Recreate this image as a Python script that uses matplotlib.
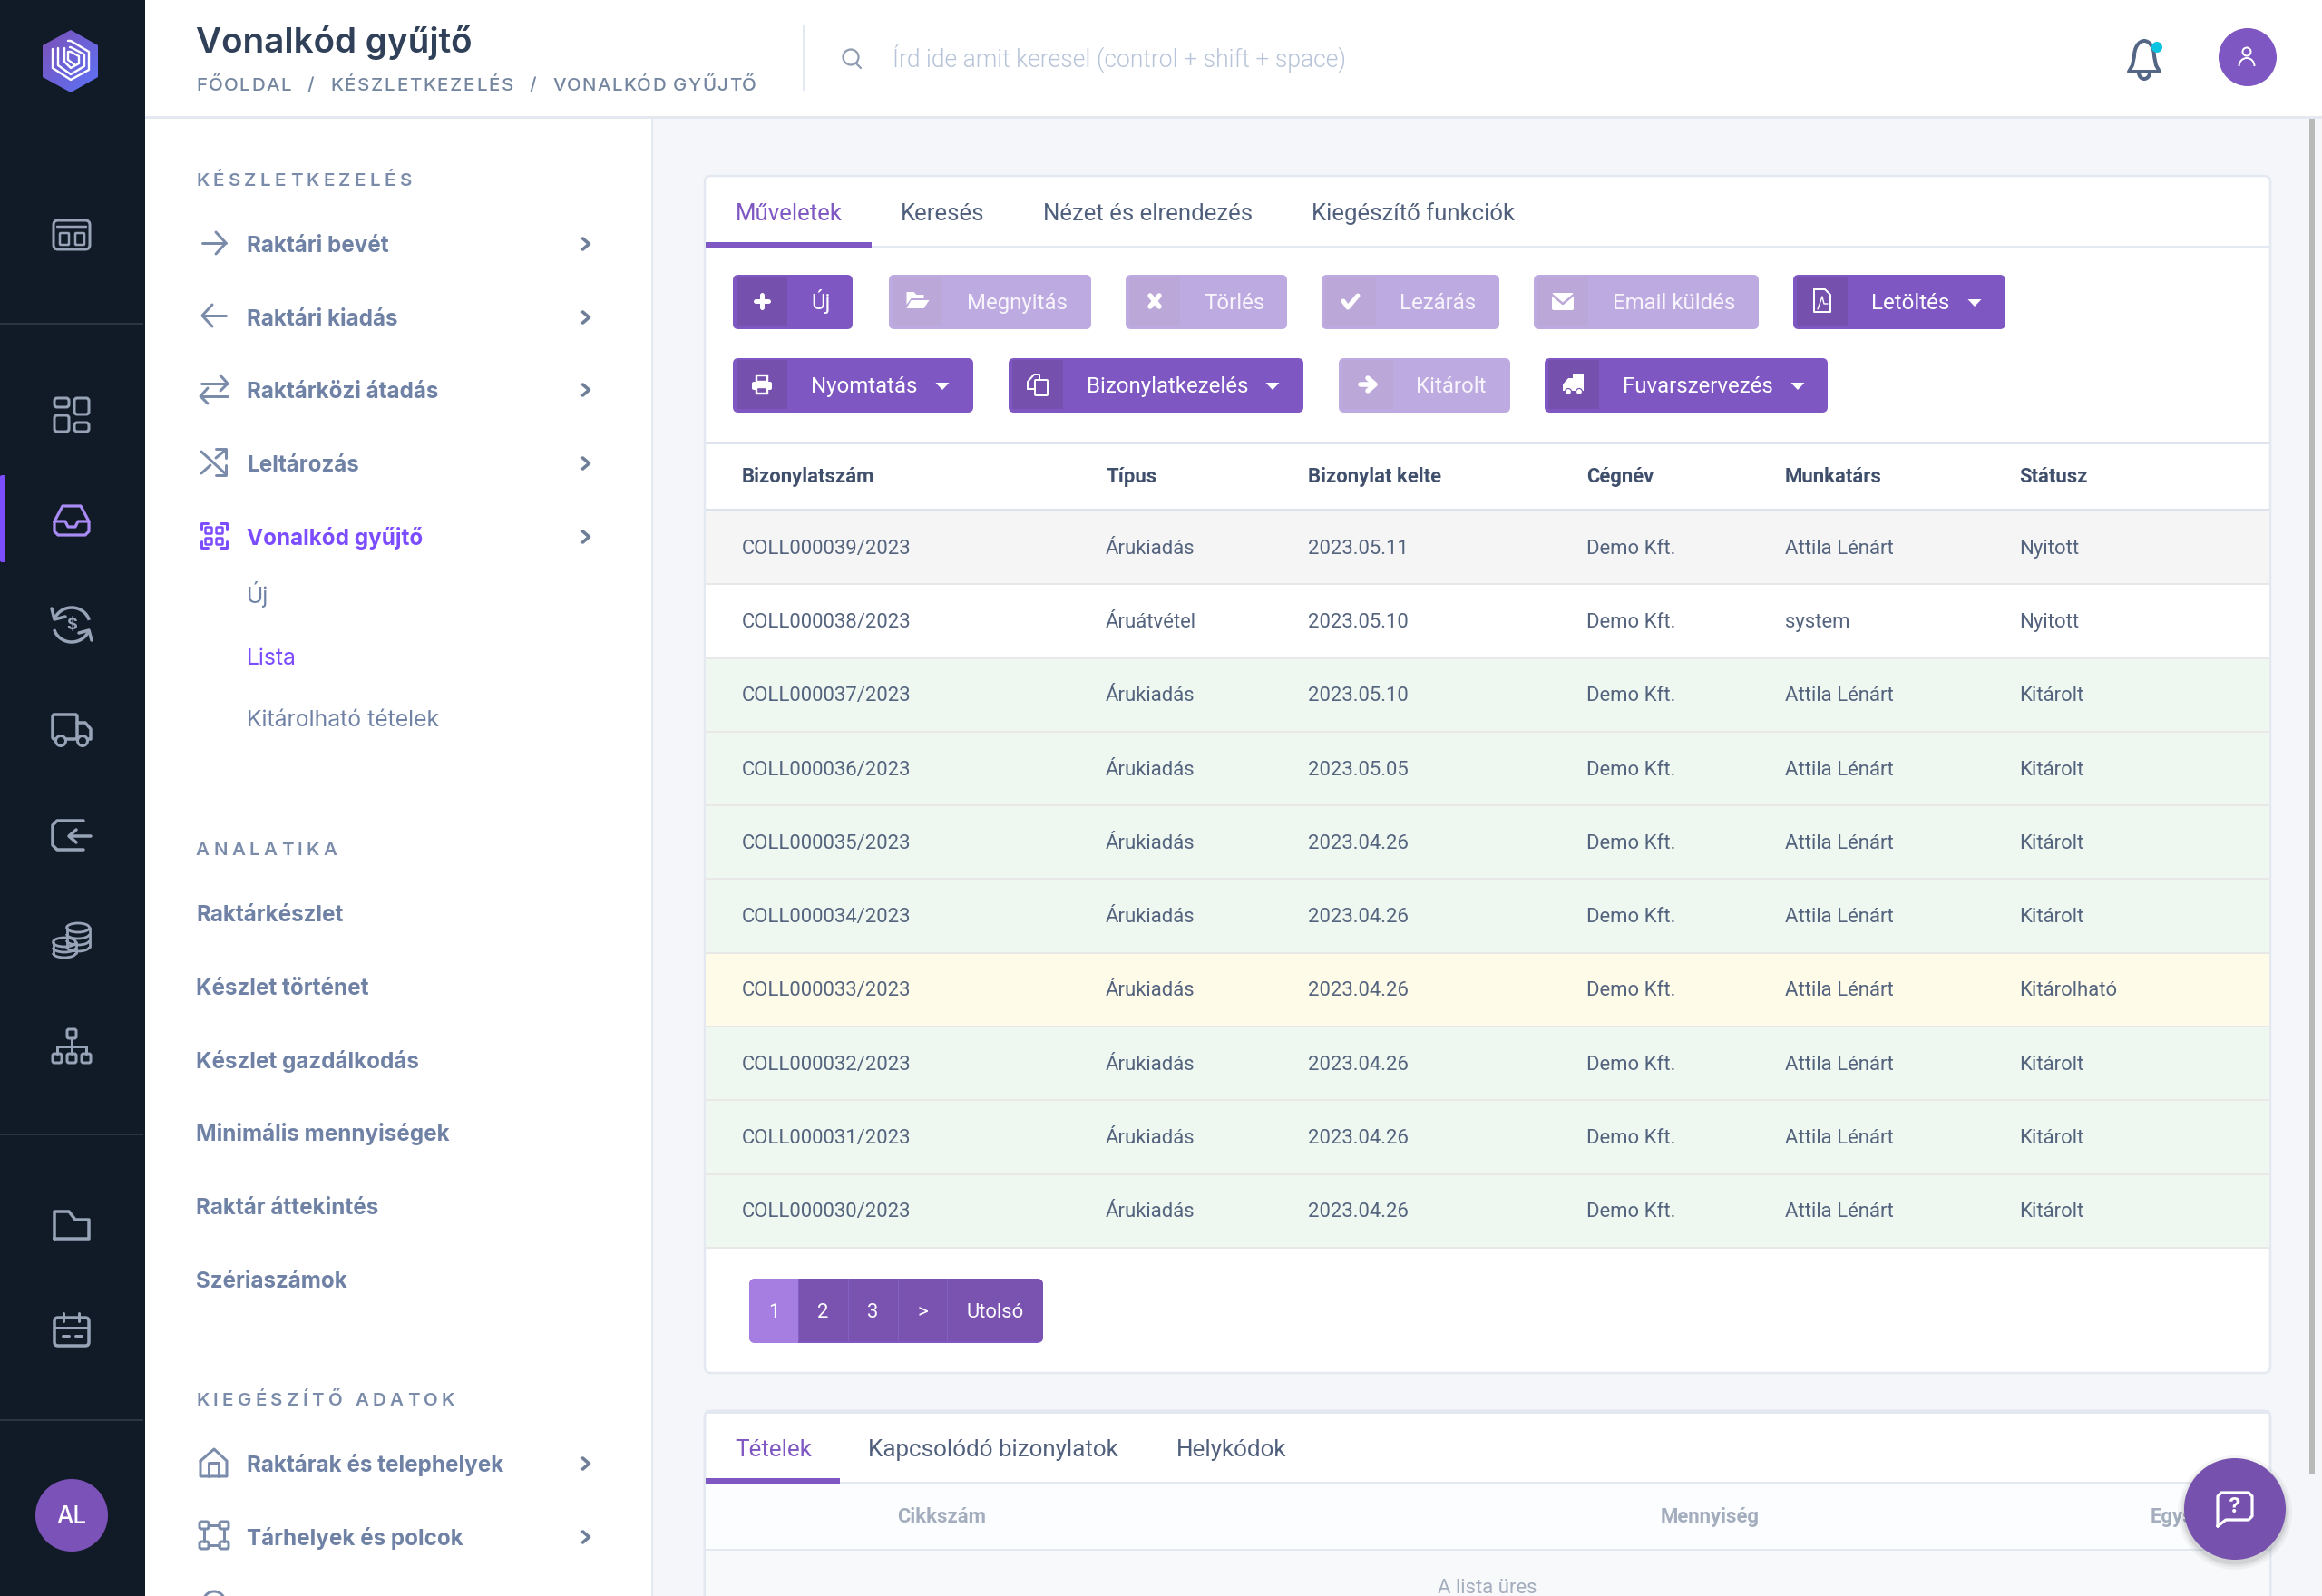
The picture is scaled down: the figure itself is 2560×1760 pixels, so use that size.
#!/usr/bin/env python3
"""Warehouse admin screen: barcode collector list."""
import numpy as np
import matplotlib
matplotlib.use("Agg")
import matplotlib.pyplot as plt
from matplotlib.patches import Arc, Circle, FancyBboxPatch, Polygon, Rectangle
from matplotlib.text import Text

SIDEBAR_BG = "#111a27"
PAGE_BG = "#f4f6fa"
BORDER = "#e4e9f1"
PURPLE = "#7e57c2"
PURPLE_DARK = "#7650ad"
FADED = "#bdaae0"
FADED_DARK = "#bba8d9"
BRIGHT = "#7c4dff"
MENU = "#6f82a5"
BODY = "#50607c"
ICON = "#97a3b6"

crumbs = ["FŐOLDAL", "/", "KÉSZLETKEZELÉS", "/", "VONALKÓD GYŰJTŐ"]
crumb_x = [216, 339, 364, 584, 609]
crumb_tracking = [1.45, 1.6, 1.7, 1.6, 1.27]
main_tabs = ["Műveletek", "Keresés", "Nézet és elrendezés", "Kiegészítő funkciók"]
sub_tabs = ["Tételek", "Kapcsolódó bizonylatok", "Helykódok"]
columns = ["Bizonylatszám", "Típus", "Bizonylat kelte", "Cégnév", "Munkatárs", "Státusz"]
doc_numbers = ["COLL000039/2023", "COLL000038/2023", "COLL000037/2023", "COLL000036/2023",
               "COLL000035/2023", "COLL000034/2023", "COLL000033/2023", "COLL000032/2023",
               "COLL000031/2023", "COLL000030/2023"]
doc_types = ["Árukiadás", "Áruátvétel"] + ["Árukiadás"] * 8
doc_dates = ["2023.05.11", "2023.05.10", "2023.05.10", "2023.05.05", "2023.04.26",
             "2023.04.26", "2023.04.26", "2023.04.26", "2023.04.26", "2023.04.26"]
companies = ["Demo Kft."] * 10
users = ["Attila Lénárt", "system"] + ["Attila Lénárt"] * 8
statuses = ["Nyitott", "Nyitott", "Kitárolt", "Kitárolt", "Kitárolt", "Kitárolt",
            "Kitárolható", "Kitárolt", "Kitárolt", "Kitárolt"]
page_labels = ["1", "2", "3", ">", "Utolsó"]
item_columns = ["Cikkszám", "Mennyiség", "Egység"]

fig = plt.figure(figsize=(25.6, 17.6), dpi=100, facecolor=PAGE_BG)
ax = fig.add_axes([0, 0, 1, 1])
ax.axis("off")


class TrackedText(Text):
    """Text drawn with extra letter spacing, like CSS letter-spacing."""

    def __init__(self, *args, tracking=0.0, **kwargs):
        super().__init__(*args, **kwargs)
        self.tracking = tracking

    def draw(self, renderer):
        if not self.get_visible():
            return
        gc = renderer.new_gc()
        gc.set_foreground(self.get_color())
        gc.set_antialiased(True)
        prop = self.get_fontproperties()
        x, y = self.get_transform().transform(self.get_position())
        y = renderer.height - y
        bar = renderer.get_text_width_height_descent("|", prop, False)[0]
        text = self.get_text()
        for i, ch in enumerate(text):
            if ch != " ":
                w = renderer.get_text_width_height_descent(text[:i] + "|", prop, False)[0] - bar
                renderer.draw_text(gc, x + w + i * self.tracking, y, ch, prop, 0, ismath=False)
        gc.restore()


def T(x, yc, s, px, color=BODY, weight="normal", family="Roboto", ha="left", tracking=None):
    base = yc + 0.36 * px
    kw = dict(fontsize=px * 0.72, color=color, fontweight=weight, family=family, va="baseline", zorder=10)
    if tracking is None:
        return ax.text(x, base, s, ha=ha, **kw)
    return ax.add_artist(TrackedText(x, base, s, tracking=tracking, **kw))


def R(x0, y0, x1, y1, r=0, fc="none", ec="none", lw=0, z=2):
    if r:
        p = FancyBboxPatch((x0, y0), x1 - x0, y1 - y0, boxstyle=f"round,pad=0,rounding_size={r}",
                           fc=fc, ec=ec, lw=lw * 0.72, zorder=z)
    else:
        p = Rectangle((x0, y0), x1 - x0, y1 - y0, fc=fc, ec=ec, lw=lw * 0.72, zorder=z)
    ax.add_patch(p)
    return p


def L(pts, color, lw=3, z=6):
    xs, ys = zip(*pts)
    ax.plot(xs, ys, color=color, lw=lw * 0.72, zorder=z, solid_capstyle="round", solid_joinstyle="round")


def C(x, y, r, fc="none", ec="none", lw=0, z=6):
    ax.add_patch(Circle((x, y), r, fc=fc, ec=ec, lw=lw * 0.72, zorder=z))


def A(x, y, w, h, t0, t1, color, lw=3, z=6):
    ax.add_patch(Arc((x, y), w, h, theta1=t0, theta2=t1, color=color, lw=lw * 0.72, zorder=z))


def P(pts, fc, z=6):
    ax.add_patch(Polygon(pts, closed=True, fc=fc, ec="none", zorder=z))


# ------------------------------ big areas
R(0, 0, 2560, 1760, fc=PAGE_BG, z=0)
R(0, 0, 160, 1760, fc=SIDEBAR_BG, z=1)
R(160, 0, 2560, 129, fc="white", z=1)
R(160, 128, 2560, 131, fc=BORDER, z=2)
R(160, 130, 719, 1760, fc="white", z=1)
R(718, 130, 720, 1760, fc=BORDER, z=2)
R(2546, 131, 2552, 1626, fc="#b9b9b9", z=2)
for y in (357, 1251, 1566):
    R(0, y - 1, 158, y + 1, fc="#2a3443", z=2)
R(0, 524, 6, 620, r=2, fc=BRIGHT, z=3)

# ------------------------------ logo
hexagon = Polygon([(78, 33), (108, 50), (108, 85), (78, 102), (47, 85), (47, 50)], closed=True,
                  transform=ax.transData, fc="none", ec="none")
ax.add_patch(hexagon)
gx, gy = np.meshgrid(np.linspace(0, 1, 40), np.linspace(0, 1, 40))
mix = ((gx + gy) / 2)[..., None]
grad = (1 - mix) * np.array([0.49, 0.32, 0.72]) + mix * np.array([0.36, 0.45, 0.97])
im = ax.imshow(grad, extent=(47, 108, 102, 33), aspect="auto", zorder=3)
im.set_clip_path(hexagon)
for pts in [
    [(58, 54), (58, 75), (78, 88), (98, 77), (98, 57), (78, 45), (75, 45)],
    [(64, 53), (64, 72), (78, 82), (93, 73), (93, 60), (78, 52), (77, 52)],
    [(71, 53), (71, 68), (78, 75), (87, 70), (87, 62), (78, 57), (75, 57), (75, 66), (82, 71)],
]:
    L(pts, "white", 2.4, 6)

# ------------------------------ sidebar icons
c = ICON
R(59, 243, 99, 275, 5, ec=c, lw=3, z=5)
L([(63, 250), (95, 250)], c, 2.5)
R(66, 257, 76, 270, 1, ec=c, lw=2.5, z=5)
R(83, 257, 93, 270, 1, ec=c, lw=2.5, z=5)

R(60, 439, 76, 449, 3, ec=c, lw=3, z=5)
R(82, 439, 98, 457, 3, ec=c, lw=3, z=5)
R(60, 458, 76, 476, 3, ec=c, lw=3, z=5)
R(82, 466, 98, 476, 3, ec=c, lw=3, z=5)

lav = "#a98bf5"
L([(60, 575), (69, 558), (89, 558), (98, 575), (98, 586), (94, 590), (64, 590), (60, 586), (60, 575)], lav, 3.2)
L([(60, 575), (72, 575), (75, 581), (83, 581), (86, 575), (98, 575)], lav, 3.2)

A(79, 689, 40, 38, 205, 345, c, 3.5)
A(79, 689, 40, 38, 25, 165, c, 3.5)
L([(57, 671), (60, 683), (72, 680)], c, 3.5)
L([(101, 706), (98, 695), (87, 698)], c, 3.5)
T(79, 688, "$", 18, c, "bold", "Inter", "center")

R(58, 788, 85, 815, 2, ec=c, lw=3.5, z=5)
L([(85, 797), (94, 797), (100, 804), (100, 815), (85, 815)], c, 3.5)
C(67, 817, 5.5, fc=SIDEBAR_BG, ec=c, lw=3, z=7)
C(91, 817, 5.5, fc=SIDEBAR_BG, ec=c, lw=3, z=7)

L([(92, 905), (63, 905), (58, 910), (58, 932), (63, 937), (92, 937)], c, 3.5)
L([(78, 922), (100, 922)], c, 3.5)
L([(84, 915), (76, 922), (84, 929)], c, 3.5)

for cx, cy, w, n, step in [(86, 1023, 25, 3, 7), (71, 1039, 25, 2, 6)]:
    for i in range(n + 1):
        A(cx, cy + i * step, w, 10, 0, 180, c, 2.8)
    A(cx, cy, w, 10, 180, 360, c, 2.8)
    L([(cx - w / 2, cy), (cx - w / 2, cy + n * step)], c, 2.8)
    L([(cx + w / 2, cy), (cx + w / 2, cy + n * step)], c, 2.8)

R(74, 1135, 84, 1145, 2, ec=c, lw=3, z=5)
for bx in (63, 79, 95):
    R(bx - 5, 1162, bx + 5, 1172, 2, ec=c, lw=3, z=5)
    L([(bx, 1154), (bx, 1162)], c, 3)
L([(79, 1145), (79, 1154)], c, 3)
L([(63, 1154), (95, 1154)], c, 3)

L([(60, 1366), (60, 1336), (76, 1336), (83, 1345), (98, 1345), (98, 1366), (60, 1366)], c, 3.5)

R(60, 1453, 98, 1484, 4, ec=c, lw=3.5, z=5)
L([(60, 1464), (98, 1464)], c, 3)
L([(70, 1448), (70, 1457)], c, 3)
L([(87, 1448), (87, 1457)], c, 3)
L([(69, 1473), (76, 1473)], c, 3)
L([(83, 1473), (90, 1473)], c, 3)

C(79, 1671, 40, fc="#7a52b8", z=5)
T(79, 1671, "AL", 26, "white", "500", "Inter", "center")

# ------------------------------ header
T(216, 44, "Vonalkód gyűjtő", 38.6, "#2f4058", "600", "Inter")
for x, label, track in zip(crumb_x, crumbs, crumb_tracking):
    T(x, 93, label, 20.5, "#74869f", "500", "Inter", tracking=track)
R(885, 28, 887, 100, fc=BORDER, z=3)
C(938, 63, 8.5, ec="#8e9bb0", lw=2.2)
L([(944, 70), (949, 75)], "#8e9bb0", 2.2)
T(984, 64, "Írd ide amit keresel (control + shift + space)", 26.5, "#b7c3d8", "300")

bell = "#536685"
A(2364, 62, 22, 34, 180, 360, bell, 4)
L([(2353, 62), (2351, 72), (2347, 79), (2381, 79), (2377, 72), (2375, 62)], bell, 4)
A(2364, 80, 12, 14, 0, 180, bell, 4)
C(2378, 52, 6, fc="#0cc3e0", z=7)
C(2478, 63, 32, fc=PURPLE, z=5)
C(2477, 57, 4.5, ec="white", lw=2)
A(2477, 73, 17, 18, 180, 360, "white", 2)

# ------------------------------ side panel
NAV_PX = 24.2
T(216, 198, "KÉSZLETKEZELÉS", 20.5, "#7b8cab", "600", "Inter", tracking=4.4)
nav_top = ["Raktári bevét", "Raktári kiadás", "Raktárközi átadás", "Leltározás"]
nav_top_y = [269, 350, 430, 511]
for y, label in zip(nav_top_y, nav_top):
    T(272, y, label, NAV_PX, MENU, "bold", "Inter")
T(272, 592, "Vonalkód gyűjtő", NAV_PX, BRIGHT, "bold", "Inter")
T(272, 656, "Új", 24.7, MENU, "normal", "Inter")
T(272, 724, "Lista", 24.7, BRIGHT, "normal", "Inter")
T(272, 792, "Kitárolható tételek", 24.7, MENU, "normal", "Inter")
T(216, 936, "ANALATIKA", 20.5, "#7b8cab", "600", "Inter", tracking=4.4)
nav_plain = ["Raktárkészlet", "Készlet történet", "Készlet gazdálkodás", "Minimális mennyiségek",
             "Raktár áttekintés", "Szériaszámok"]
nav_plain_y = [1007, 1088, 1169, 1249, 1330, 1411]
for y, label in zip(nav_plain_y, nav_plain):
    T(216, y, label, NAV_PX, MENU, "bold", "Inter")
T(216, 1543, "KIEGÉSZÍTŐ ADATOK", 20.5, "#7b8cab", "600", "Inter", tracking=4.4)
T(272, 1614, "Raktárak és telephelyek", NAV_PX, MENU, "bold", "Inter")
T(272, 1695, "Tárhelyek és polcok", NAV_PX, MENU, "bold", "Inter")

for y in [269, 350, 430, 511, 592, 1614, 1695]:
    L([(642.5, y - 6), (649.5, y), (642.5, y + 6)], "#6f7f98", 3.6)

g = "#7b8cab"
L([(223, 268), (249, 268)], g, 3)
L([(238, 256), (249, 268), (238, 280)], g, 3)
L([(223, 348), (249, 348)], g, 3)
L([(234, 336), (223, 348), (234, 360)], g, 3)
L([(222, 423), (251, 423)], g, 3)
L([(243, 414), (251, 423), (243, 431)], g, 3)
L([(221, 437), (251, 437)], g, 3)
L([(229, 428), (221, 437), (229, 445)], g, 3)
L([(222, 498), (248, 522)], g, 3)
L([(222, 522), (232, 513)], g, 3)
L([(238, 505), (249, 496)], g, 3)
L([(238, 495), (249, 495), (249, 505)], g, 3)
L([(238, 524), (249, 524), (249, 513)], g, 3)

for x0, y0, sx, sy in [(222, 577, 1, 1), (250, 577, -1, 1), (222, 604, 1, -1), (250, 604, -1, -1)]:
    L([(x0, y0 + sy * 7), (x0, y0), (x0 + sx * 7, y0)], BRIGHT, 3)
for bx, by in [(230, 585), (242, 585), (230, 597), (242, 597)]:
    R(bx - 3.5, by - 3.5, bx + 3.5, by + 3.5, 1, ec=BRIGHT, lw=2.5, z=5)

L([(221, 1611), (236, 1598), (250, 1611), (250, 1628), (221, 1628), (221, 1611)], g, 3)
L([(230, 1628), (230, 1613), (241, 1613), (241, 1628)], g, 3)
for bx, by in [(225, 1682), (247, 1682), (225, 1704), (247, 1704)]:
    R(bx - 5, by - 4, bx + 5, by + 4, 2, ec=g, lw=3, z=5)
L([(230, 1682), (242, 1682)], g, 3)
L([(230, 1704), (242, 1704)], g, 3)
L([(225, 1686), (225, 1700)], g, 3)
L([(247, 1686), (247, 1700)], g, 3)
A(236, 1767, 24, 24, 180, 360, g, 3)

# ------------------------------ main card
R(777, 194, 2503, 1514, 7, fc="white", ec=BORDER, lw=2.5, z=2)
tab_x = [811, 993, 1150, 1446]
for i, (x, label) in enumerate(zip(tab_x, main_tabs)):
    T(x, 234, label, 25.8, PURPLE if i == 0 else BODY)
R(778, 271, 2502, 273, fc=BORDER, z=3)
R(778, 267, 961, 273, fc=PURPLE, z=4)

buttons = [
    ("Új", 808, 940, 868, 894, 303, True, None, "plus"),
    ("Megnyitás", 980, 1203, 1039, 1066, 303, False, None, "folder"),
    ("Törlés", 1241, 1419, 1301, 1327, 303, False, None, "cross"),
    ("Lezárás", 1457, 1653, 1517, 1543, 303, False, None, "check"),
    ("Email küldés", 1691, 1939, 1751, 1778, 303, False, None, "mail"),
    ("Letöltés", 1977, 2211, 2037, 2063, 303, True, 2177, "pdf"),
    ("Nyomtatás", 808, 1073, 868, 894, 395, True, 1039, "print"),
    ("Bizonylatkezelés", 1112, 1437, 1172, 1198, 395, True, 1403, "copy"),
    ("Kitárolt", 1476, 1665, 1536, 1561, 395, False, None, "arrow"),
    ("Fuvarszervezés", 1703, 2015, 1763, 1789, 395, True, 1982, "truck"),
]


def button_icon(kind, x, y, back):
    w = "white"
    if kind == "plus":
        L([(x - 7, y), (x + 7, y)], w, 5)
        L([(x, y - 7), (x, y + 7)], w, 5)
    elif kind == "folder":
        P([(x - 12, y - 10), (x - 4, y - 10), (x - 1, y - 7), (x + 7, y - 7), (x + 7, y - 3), (x - 7, y - 3),
           (x - 12, y + 4)], w)
        P([(x - 7, y - 1), (x + 13, y - 1), (x + 7, y + 8), (x - 12, y + 8)], w)
    elif kind == "cross":
        L([(x - 5, y - 6), (x + 5, y + 6)], w, 5.5)
        L([(x + 5, y - 6), (x - 5, y + 6)], w, 5.5)
    elif kind == "check":
        L([(x - 8, y), (x - 3, y + 7), (x + 8, y - 6)], w, 5)
    elif kind == "mail":
        R(x - 12, y - 9, x + 12, y + 10, 2, fc=w, z=6)
        L([(x - 12, y - 7), (x, y + 3), (x + 12, y - 7)], back, 2.5, 7)
    elif kind == "pdf":
        L([(x - 9, y - 13), (x + 3, y - 13), (x + 9, y - 7), (x + 9, y + 12), (x - 9, y + 12), (x - 9, y - 13)], w, 2)
        L([(x - 5, y + 9), (x, y - 5), (x + 2, y + 3), (x + 6, y + 3)], w, 1.4)
    elif kind == "print":
        R(x - 6, y - 10, x + 6, y - 3, fc="none", ec=w, lw=2.4, z=6)
        R(x - 11, y - 3, x + 11, y + 6, 2, fc=w, z=6)
        R(x - 6, y + 3, x + 6, y + 10, fc=back, ec=w, lw=2.4, z=7)
    elif kind == "copy":
        L([(x - 11, y + 5), (x - 11, y - 3), (x - 4, y - 11), (x + 2, y - 11), (x + 2, y - 5)], w, 2)
        L([(x - 11, y + 5), (x - 3, y + 5)], w, 2)
        R(x - 3, y - 5, x + 11, y + 12, 1, fc=back, ec=w, lw=2, z=7)
    elif kind == "arrow":
        L([(x - 8, y), (x + 6, y)], w, 5.5)
        L([(x, y - 7), (x + 8, y), (x, y + 7)], w, 5.5)
    elif kind == "truck":
        P([(x + 11, y - 12), (x + 11, y + 7), (x - 12, y + 7), (x - 12, y), (x - 6, y - 7), (x - 1, y - 7),
           (x - 1, y - 12)], w)
        C(x - 6, y + 8, 3.5, fc=w, ec=back, lw=1.2, z=7)
        C(x + 6, y + 8, 3.5, fc=w, ec=back, lw=1.2, z=7)


for label, x0, x1, xi, xt, y0, active, caret, icon in buttons:
    y1 = y0 + 60
    R(x0, y0, x1, y1, 6, fc=PURPLE if active else FADED, z=3)
    back = PURPLE_DARK if active else FADED_DARK
    R(x0 + 4, y0 + 2, xi, y1 - 4, fc=back, z=4)
    button_icon(icon, (x0 + 4 + xi) / 2, y0 + 29, back)
    T(xt, y0 + 29.5, label, 24, "white" if active else "#f7f4fc")
    if caret:
        P([(caret - 7.5, y0 + 27), (caret + 7.5, y0 + 27), (caret, y0 + 35)], "white")

# ------------------------------ table
ROW_TOP, ROW_H = 563, 81.3
col_x = [818, 1219, 1442, 1749, 1968, 2226]
R(778, 487, 2502, 490, fc="#dfe4ee", z=3)
R(778, 561, 2502, 564, fc="#dde2ec", z=3)
for x, label in zip(col_x, columns):
    T(x, 524, label, 22.2, "#3f4f6c", "bold")

row_fill = {"Nyitott": "white", "Kitárolt": "#eef8f0", "Kitárolható": "#fefbe8"}
for i, row in enumerate(zip(doc_numbers, doc_types, doc_dates, companies, users, statuses)):
    y0 = ROW_TOP + i * ROW_H
    fill = "#f5f5f5" if i == 0 else row_fill[row[-1]]
    R(778, y0, 2502, y0 + ROW_H, fc=fill, z=3)
    R(778, y0 + ROW_H - 1, 2502, y0 + ROW_H + 1, fc="#e8e8e9", z=4)
    for x, val in zip(col_x, row):
        T(x, y0 + ROW_H / 2 - 1, val, 22.1, "#55647e")

# ------------------------------ pager
page_x = [826, 880, 935, 990, 1044, 1150]
bar = R(826, 1410, 1150, 1481, 7, fc=PURPLE, z=3)
for i, label in enumerate(page_labels):
    cell = R(page_x[i], 1410, page_x[i + 1], 1479, fc="#a67de0" if i == 0 else "#7a52b0", z=4)
    cell.set_clip_path(bar)
    if i == 0:
        extra = R(page_x[0], 1476, page_x[1], 1481, fc="#a67de0", z=4)
        extra.set_clip_path(bar)
    if 0 < i:
        R(page_x[i] - 0.5, 1410, page_x[i] + 0.5, 1479, fc="#8560c4", z=5)
    T((page_x[i] + page_x[i + 1]) / 2, 1445, label, 22, "white", ha="center")

# ------------------------------ lower card
R(777, 1556, 2503, 1800, 7, fc="white", ec=BORDER, lw=3, z=2)
R(778, 1555, 2502, 1559, fc=BORDER, z=3)
sub_x = [810, 957, 1297]
for i, (x, label) in enumerate(zip(sub_x, sub_tabs)):
    T(x, 1597, label, 26, PURPLE if i == 0 else BODY)
R(778, 1634, 2502, 1636, fc=BORDER, z=3)
R(778, 1630, 926, 1636, fc=PURPLE, z=4)
R(778, 1636, 2502, 1708, fc="#fbfdfe", z=3)
R(778, 1708, 2502, 1710, fc=BORDER, z=4)
R(778, 1710, 2502, 1760, fc="#f8f9fb", z=3)
for x, label in zip([989, 1831, 2371], item_columns):
    T(x, 1671, label, 22.1, "#a3adbd", "bold")
T(1640, 1749, "A lista üres", 22.1, "#a3adbd", ha="center")

# ------------------------------ help bubble
for r, a in [(63, 0.04), (60, 0.05), (57.5, 0.07)]:
    ax.add_patch(Circle((2464, 1668), r, fc="black", ec="none", alpha=a, zorder=11))
ax.add_patch(Circle((2464, 1664), 56, fc="#7651ad", ec="none", zorder=12))
lines = [(2445, 1683), (2445, 1650), (2449, 1646), (2479, 1646), (2483, 1650), (2483, 1672), (2479, 1676),
         (2454, 1676), (2445, 1683)]
L(lines, "white", 3.2, 13)
ax.text(2464, 1662, "?", fontsize=20 * 0.72 * 1.2, color="white", ha="center", va="center", family="Inter",
        fontweight="bold", zorder=13)

ax.set_xlim(0, 2560)
ax.set_ylim(1760, 0)
fig.savefig("out.png", dpi=100, facecolor=PAGE_BG)
